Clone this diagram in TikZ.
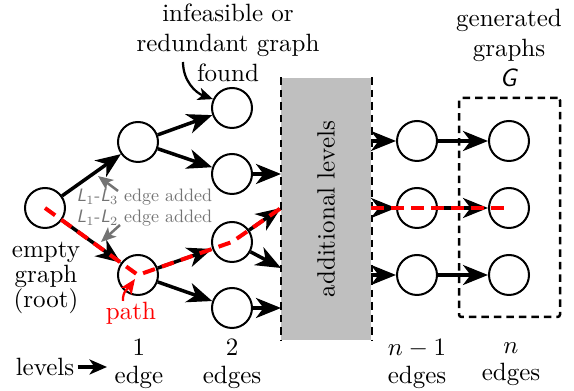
\documentclass[tikz,border=0pt]{standalone}
\usetikzlibrary{arrows.meta}
\begin{document}
\begin{tikzpicture}[x=0.4pt,y=-0.4pt,
  gnode/.style={circle,draw,line width=0.8pt,minimum size=16pt,inner sep=0pt},
  edge/.style={line width=1.4pt,-{Stealth[length=10pt,width=8pt,inset=3pt]}},
  redpath/.style={red,line width=1.6pt,dash pattern=on 5pt off 3pt},
  note/.style={black!55,line width=1pt,-{Stealth[length=6pt,width=5pt,inset=1.5pt]}},
  callout/.style={line width=0.9pt,-{Stealth[length=6pt,width=5pt,inset=1.5pt]}},
  notetxt/.style={black!55,anchor=west,inner sep=0pt},
  lbl/.style={align=center,inner sep=0pt}]
\useasboundingbox (0,0) rectangle (574,391);

% grey box of additional levels
\node[fill=gray!50,minimum width=36pt,minimum height=104.8pt,inner sep=0pt] (box) at (326,209) {};
\draw[densely dashed,line width=0.8pt] (box.north west) -- (box.south west);
\draw[densely dashed,line width=0.8pt] (box.north east) -- (box.south east);
\node[rotate=90] (boxtxt) at (326,209) {additional levels};

% generated graphs frame
\node[draw,densely dashed,line width=1pt,rounded corners=1pt,minimum width=40.4pt,minimum height=87.6pt,inner sep=0pt] (G) at (509.5,207.5) {};

% nodes
\node[gnode] (root) at (45,208) {};
\node[gnode] (L1a) at (138,142) {};
\node[gnode] (L1b) at (138,275) {};
\node[gnode] (L2a) at (232,108) {};
\node[gnode] (L2b) at (232,174) {};
\node[gnode] (L2c) at (232,242) {};
\node[gnode] (L2d) at (232,308) {};
\node[gnode] (R1a) at (417,141) {};
\node[gnode] (R1b) at (417,208) {};
\node[gnode] (R1c) at (417,275) {};
\node[gnode] (R2a) at (509,141) {};
\node[gnode] (R2b) at (509,208) {};
\node[gnode] (R2c) at (509,275) {};

% box entry / exit points
\coordinate (inb) at (281,174);
\coordinate (inc1) at (281,208);
\coordinate (inc2) at (281,268);
\coordinate (ind) at (281,308);
\coordinate (outa) at (371,141);
\coordinate (outb) at (371,208);
\coordinate (outc) at (371,275);

% edges
\draw[edge] (root) -- (L1a);
\draw[edge] (root) -- (L1b);
\draw[edge] (L1a) -- (L2a);
\draw[edge] (L1a) -- (L2b);
\draw[edge] (L1b) -- (L2c);
\draw[edge] (L1b) -- (L2d);
\draw[edge] (L2b) -- (inb);
\draw[edge] (L2c) -- (inc1);
\draw[edge] (L2c) -- (inc2);
\draw[edge] (L2d) -- (ind);
\draw[edge] (outa) -- (R1a);
\draw[edge] (outb) -- (R1b);
\draw[edge] (outc) -- (R1c);
\draw[edge] (R1a) -- (R2a);
\draw[edge] (R1b) -- (R2b);
\draw[edge] (R1c) -- (R2c);

% red path
\draw[redpath] (root.center) -- (L1b.center) -- (L2c.center) -- (inc1);
\draw[redpath] (outb) -- (R2b.center);

% annotations
\node[notetxt] (n13) at (76,197) {\scalebox{0.72}{\textsl{\textsf{L}}$_1$-\textsl{\textsf{L}}$_3$ edge added}};
\node[notetxt] (n12) at (76,218) {\scalebox{0.72}{\textsl{\textsf{L}}$_1$-\textsl{\textsf{L}}$_2$ edge added}};
\coordinate (a13s) at (118,191);
\coordinate (a13e) at (98,176);
\coordinate (a12s) at (120,225);
\coordinate (a12e) at (101,242);
\draw[note] (a13s) -- (a13e);
\draw[note] (a12s) -- (a12e);

\node[lbl] (infeas) at (228,43) {infeasible or\\redundant graph\\found};
\coordinate (infs) at (183,62);
\draw[callout] (infs) to[out=-90,in=160] (L2a.155);

\node[lbl] (gen) at (509,48) {generated\\graphs\\\textsl{\textsf{G}}};

\node[lbl] (rootlbl) at (46,278) {empty\\[-2pt]graph\\[-2pt](root)};

\node[red,inner sep=0pt] (pathlbl) at (131,313) {path};
\coordinate (ps) at (123,301);
\coordinate (pe) at (135,279);
\draw[red,callout] (ps) to[out=95,in=-125] (pe);

% level labels
\node[inner sep=0pt] (lv) at (45,367) {levels};
\coordinate (lvend) at (107,367);
\draw[line width=1.3pt,-{Stealth[length=7pt,width=6pt,inset=2pt]}] (lv.east) ++(3,0) -- (lvend);
\node[lbl] (e1) at (139,364) {1\\[-1pt]edge};
\node[lbl] (e2) at (232,364) {2\\[-1pt]edges};
\node[lbl] (en1) at (417,364) {$n-1$\\[-1pt]edges};
\node[lbl] (en) at (511,364) {$n$\\[-1pt]edges};
\end{tikzpicture}
\end{document}
